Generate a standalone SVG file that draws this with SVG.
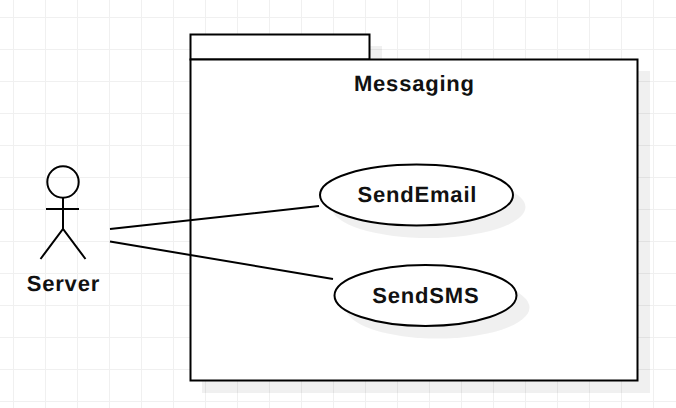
<svg xmlns="http://www.w3.org/2000/svg" width="676" height="408" viewBox="0 0 676 408">
<style>
.g{stroke:#f0f0f0;stroke-width:1;fill:none}
.s{fill:#000;fill-opacity:.06;stroke:none}
.n{fill:#fff;stroke:#000;stroke-width:2}
.l{fill:none;stroke:#000;stroke-width:2}
text{font-family:"Liberation Sans",Arial,sans-serif;font-weight:700;font-size:22px;letter-spacing:.8px;fill:#111;text-anchor:middle;text-rendering:geometricPrecision}
</style>
<rect width="676" height="408" fill="#fff"/>
<path class="g" d="M13.5 0V408M45.5 0V408M77.5 0V408M109.5 0V408M141.5 0V408M173.5 0V408M205.5 0V408M237.5 0V408M269.5 0V408M301.5 0V408M333.5 0V408M365.5 0V408M397.5 0V408M429.5 0V408M461.5 0V408M493.5 0V408M525.5 0V408M557.5 0V408M589.5 0V408M621.5 0V408M653.5 0V408M0 17.5H676M0 49.5H676M0 81.5H676M0 113.5H676M0 145.5H676M0 177.5H676M0 209.5H676M0 241.5H676M0 273.5H676M0 305.5H676M0 337.5H676M0 369.5H676M0 401.5H676"/>
<g id="messaging">
<path class="s" d="M202 46H382V71H650V393H202Z"/>
<rect class="n" x="190.500" y="34.500" width="179" height="25"/>
<rect class="n" x="190.500" y="59.500" width="447" height="321"/>
<text x="414.400" y="91">Messaging</text>
</g>
<g id="sendemail">
<ellipse class="s" cx="428.500" cy="207" rx="97" ry="31"/>
<ellipse class="n" cx="416.500" cy="195" rx="96.500" ry="30.500"/>
<text x="417.400" y="202">SendEmail</text>
</g>
<g id="sendsms">
<ellipse class="s" cx="437.500" cy="307.500" rx="92" ry="31"/>
<ellipse class="n" cx="425.500" cy="295.500" rx="91" ry="30.500"/>
<text x="425.900" y="303">SendSMS</text>
</g>
<g id="server">
<circle class="l" cx="63" cy="182" r="15.700"/>
<path class="l" d="M63 197.700V229M46 209H79M40.500 259L63 229L85.500 259"/>
<text x="63.400" y="291">Server</text>
</g>
<g id="connectors">
<path class="l" d="M110 229L319 206M110 241.500L333 279"/>
</g>
</svg>
